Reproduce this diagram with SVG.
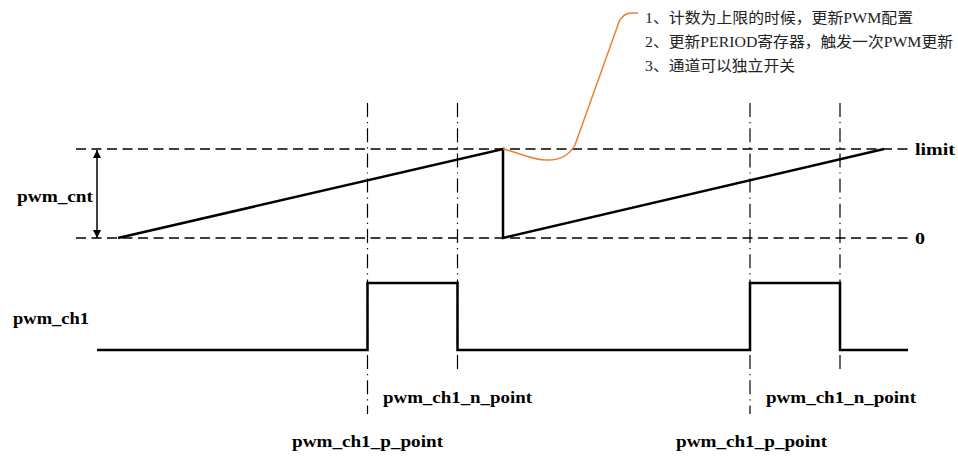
<svg xmlns="http://www.w3.org/2000/svg" width="958" height="460" viewBox="0 0 958 460">
<defs>
<style>
.dash{stroke:#000;stroke-width:1.3;stroke-dasharray:10 5.5;fill:none}
.dd{stroke:#000;stroke-width:1.2;stroke-dasharray:14 5 1.2 5;fill:none}
.wave{stroke:#000;stroke-width:2.5;fill:none;stroke-linejoin:miter}
.lbl{font-family:"Liberation Serif","Times New Roman",serif;font-weight:bold;font-size:16px;fill:#000}
.note{font-family:"Liberation Serif","Noto Sans CJK SC",serif;font-size:15px;fill:#222}
</style>
<marker id="ah" viewBox="0 0 10 10" refX="10" refY="5" markerWidth="8" markerHeight="10" markerUnits="userSpaceOnUse" orient="auto-start-reverse">
<path d="M0,0 L10,5 L0,10 Z" fill="#000"/>
</marker>
</defs>
<rect width="958" height="460" fill="#fff"/>
<g id="guides">
<line class="dash" x1="76" y1="149" x2="908" y2="149"/>
<line class="dash" x1="76" y1="238" x2="908" y2="238"/>
<line class="dd" x1="367.5" y1="103" x2="367.5" y2="414"/>
<line class="dd" x1="457.5" y1="103" x2="457.5" y2="369"/>
<line class="dd" x1="750" y1="103" x2="750" y2="414"/>
<line class="dd" x1="840" y1="103" x2="840" y2="369"/>
</g>
<g id="pwm_cnt">
<polyline class="wave" points="118,238 503,149 503,238 884,149"/>
<text class="lbl" x="17" y="202" textLength="76" lengthAdjust="spacingAndGlyphs">pwm_cnt</text>
</g>
<g id="limit"><text class="lbl" x="915" y="155" textLength="40" lengthAdjust="spacingAndGlyphs">limit</text></g>
<g id="zero"><text class="lbl" x="915" y="244" textLength="10" lengthAdjust="spacingAndGlyphs">0</text></g>
<g id="pwm_ch1">
<polyline class="wave" points="97,350 367.5,350 367.5,283 457.5,283 457.5,350 750,350 750,283 840,283 840,350 908,350"/>
<text class="lbl" x="13" y="324" textLength="76" lengthAdjust="spacingAndGlyphs">pwm_ch1</text>
</g>
<g id="n_point_1"><text class="lbl" x="383" y="402.5" textLength="149" lengthAdjust="spacingAndGlyphs">pwm_ch1_n_point</text></g>
<g id="p_point_1"><text class="lbl" x="292" y="447" textLength="151" lengthAdjust="spacingAndGlyphs">pwm_ch1_p_point</text></g>
<g id="n_point_2"><text class="lbl" x="766" y="402.5" textLength="150" lengthAdjust="spacingAndGlyphs">pwm_ch1_n_point</text></g>
<g id="p_point_2"><text class="lbl" x="676" y="447" textLength="151" lengthAdjust="spacingAndGlyphs">pwm_ch1_p_point</text></g>
<g id="note">
<text class="note" x="645" y="23" textLength="268" lengthAdjust="spacingAndGlyphs">1、计数为上限的时候，更新PWM配置</text>
<text class="note" x="645" y="47" textLength="308" lengthAdjust="spacingAndGlyphs">2、更新PERIOD寄存器，触发一次PWM更新</text>
<text class="note" x="645" y="71" textLength="150" lengthAdjust="spacingAndGlyphs">3、通道可以独立开关</text>
</g>
<g id="connectors">
<line x1="97" y1="150" x2="97" y2="238" stroke="#000" stroke-width="1.5" marker-start="url(#ah)" marker-end="url(#ah)"/>
<path d="M503,149 C520,153 535,161 548,160 C562,160 570,154 575,145 L619,22 Q623,13 632,13 L638,13" fill="none" stroke="#ED7D31" stroke-width="1.5"/>
</g>
</svg>
